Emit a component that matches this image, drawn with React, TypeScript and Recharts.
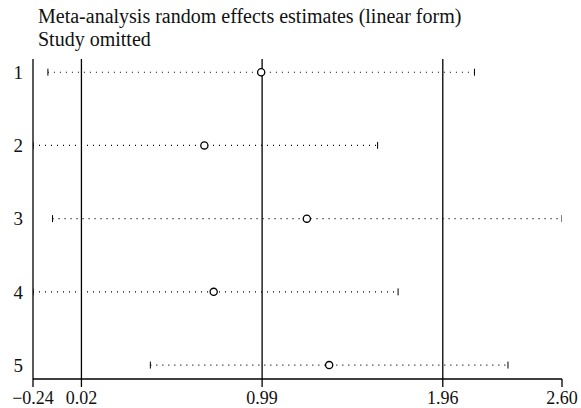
import React from "react";
import {
  ScatterChart,
  Scatter,
  XAxis,
  YAxis,
  ReferenceLine,
} from "recharts";

// Leave-one-out estimates
const studies = ["1", "2", "3", "4", "5"];
const lower = [-0.16, -0.24, -0.135, -0.24, 0.39];
const estimate = [0.985, 0.68, 1.23, 0.73, 1.35];
const upper = [2.13, 1.61, 2.6, 1.72, 2.31];

const xTicks = [-0.24, 0.02, 0.99, 1.96, 2.6];
const refLines = [0.02, 0.99, 1.96];
const rowTicks = [1, 2, 3, 4, 5];

const FONT = '"Liberation Serif", "DejaVu Serif", serif';

const fmt = (v: number) => (v < 0 ? "\u2212" : "") + Math.abs(v).toFixed(2);

const Cap = (props: any) => (
  <line
    x1={props.cx}
    x2={props.cx}
    y1={props.cy - 3.5}
    y2={props.cy + 3.5}
    stroke="#000"
    strokeWidth={1}
  />
);

const Dot = (props: any) => (
  <circle cx={props.cx} cy={props.cy} r={3.6} fill="#fff" stroke="#000" strokeWidth={1.3} />
);

export default function App() {
  const estData = estimate.map((e, i) => ({ x: e, y: i + 1 }));

  return (
    <div style={{ position: "absolute", left: 0, top: 0, width: 581, height: 408, background: "#fff" }}>
      <div
        style={{
          position: "absolute",
          left: 38,
          top: 5,
          fontFamily: FONT,
          fontSize: 20,
          lineHeight: "23px",
          color: "#111",
          whiteSpace: "nowrap",
        }}
      >
        Meta-analysis random effects estimates (linear form)
        <br />
        Study omitted
      </div>
      <ScatterChart width={581} height={408} margin={{ top: 59, right: 19, bottom: 0, left: 0 }}>
        <XAxis
          type="number"
          dataKey="x"
          domain={[-0.24, 2.6]}
          ticks={xTicks}
          allowDataOverflow
          interval={0}
          tickFormatter={fmt}
          height={29}
          tickSize={8}
          tickMargin={4}
          axisLine={{ stroke: "#000", strokeWidth: 1.3 }}
          tickLine={{ stroke: "#000", strokeWidth: 1.3 }}
          tick={{ fill: "#111", fontSize: 18, fontFamily: FONT }}
        />
        <YAxis
          type="number"
          dataKey="y"
          domain={[0.82, 5.19]}
          reversed
          ticks={rowTicks}
          interval={0}
          allowDataOverflow
          tickFormatter={(v: number) => studies[v - 1]}
          width={33}
          tickLine={false}
          tickSize={6}
          tickMargin={4}
          axisLine={{ stroke: "#000", strokeWidth: 1.3 }}
          tick={{ fill: "#111", fontSize: 19, fontFamily: FONT }}
        />
        {refLines.map((v) => (
          <ReferenceLine key={v} x={v} stroke="#000" strokeWidth={1.3} />
        ))}
        {studies.map((s, i) => (
          <Scatter
            key={s}
            data={[
              { x: lower[i], y: i + 1 },
              { x: upper[i], y: i + 1 },
            ]}
            line={{ stroke: "#000", strokeWidth: 1.1, strokeDasharray: "1 5" }}
            shape={Cap}
            isAnimationActive={false}
          />
        ))}
        <Scatter data={estData} shape={Dot} isAnimationActive={false} />
      </ScatterChart>
    </div>
  );
}
